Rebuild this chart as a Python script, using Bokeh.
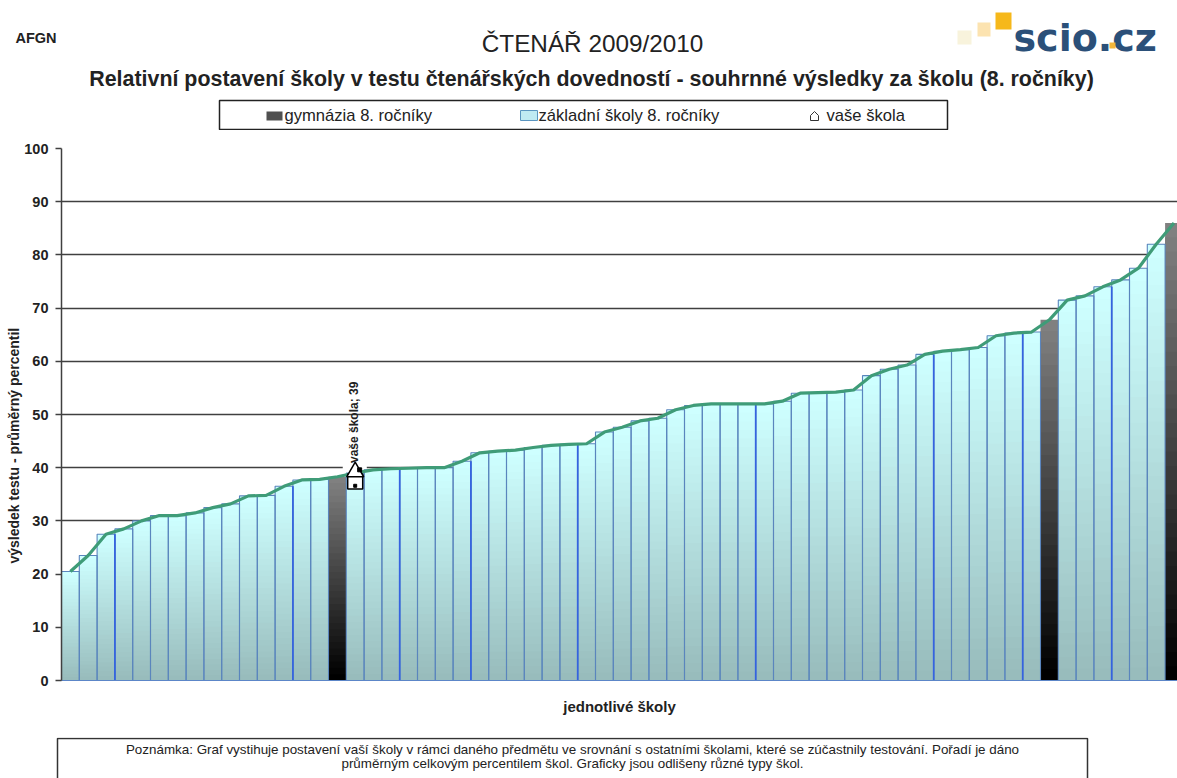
from bokeh.plotting import figure
from bokeh.models import Range1d, Label, FixedTicker, Title
from bokeh.layouts import column
from bokeh.core.properties import value
from bokeh.embed import file_html
from bokeh.resources import INLINE
import math

SCHOOL_VALUES = [20.5, 23.5, 27.5, 28.5, 30.0, 31.0, 31.0, 31.5, 32.5, 33.2, 34.7, 34.8, 36.5, 37.7, 37.8, 38.3,
                 39.0, 39.6, 39.8, 39.9, 40.0, 40.0, 41.2, 42.8, 43.1, 43.3, 43.8, 44.2, 44.4, 44.5, 46.7, 47.6,
                 48.8, 49.3, 50.9, 51.7, 52.0, 52.0, 52.0, 52.0, 52.5, 54.0, 54.1, 54.2, 54.6, 57.3, 58.5, 59.3,
                 61.3, 61.9, 62.2, 62.6, 64.8, 65.3, 65.5, 67.8, 71.5, 72.3, 74.0, 75.3, 77.5, 82.0, 86.0]
GYM_INDEX = [15, 55, 62]
YOUR_INDEX = 16
YOUR_VALUE = 39
BRIGHT_EDGES = [3, 13, 19, 23, 29, 39, 49, 54, 59]
Y_TICKS = [0, 10, 20, 30, 40, 50, 60, 70, 80, 90, 100]
TITLE = "ČTENÁŘ 2009/2010"
SUBTITLE = "Relativní postavení školy v testu čtenářských dovedností - souhrnné výsledky za školu (8. ročníky)"
X_LABEL = "jednotlivé školy"
Y_LABEL = "výsledek testu - průměrný percentil"
LEGEND_GYM = "gymnázia 8. ročníky"
LEGEND_ZS = "základní školy 8. ročníky"
LEGEND_YOU = "vaše škola"
NOTE_1 = "Poznámka: Graf vystihuje postavení vaší školy v rámci daného předmětu ve srovnání s ostatními školami, které se zúčastnily testování. Pořadí je dáno"
NOTE_2 = "průměrným celkovým percentilem škol. Graficky jsou odlišeny různé typy škol."

FONT = "Liberation Sans"
INK = "#222222"
STEPS = 32
W = 1177
HEAD_H, FOOT_H = 130, 41
MAIN_H = 778 - HEAD_H - FOOT_H
F_LEFT, F_TOP, F_BOTTOM = 61, 148, 680
X_PITCH = 17.8


def mix(a, b, t):
    return "#%02x%02x%02x" % tuple(round(a[k] + (b[k] - a[k]) * t) for k in range(3))


def strip(height):
    """A figure without axes whose data coordinates are its own pixels, y running down."""
    f = figure(width=W, height=height, output_backend="svg", toolbar_location=None,
               x_range=Range1d(0, W), y_range=Range1d(height, 0),
               x_axis_location=None, y_axis_location=None, frame_align=False,
               min_border_left=0, min_border_right=0, min_border_top=0, min_border_bottom=0)
    f.outline_line_color = None
    f.xgrid.visible = False
    f.ygrid.visible = False
    return f


def put_text(f, x, y, text, size, style="normal", align="left", color=INK, font=FONT):
    f.text(x=[x], y=[y], text=[text], text_font=value(font), text_font_size=value(size),
           text_font_style=style, text_align=align, text_baseline="middle", text_color=color)


def put_box(f, l, r, t, b, fill, line=None, width=1.0):
    f.quad(left=[l], right=[r], top=[t], bottom=[b], fill_color=fill, line_color=line, line_width=width)


# ---------- header ----------
head = strip(HEAD_H)
put_text(head, 15, 37, "AFGN", "14.5px", "bold")
put_text(head, 592, 43, TITLE, "24.3px", align="center")
put_text(head, 591, 78, SUBTITLE, "21.4px", "bold", align="center")
put_box(head, 957, 971, 30, 44, "#f8f3dc")
put_box(head, 977, 990, 22, 36, "#fce3b0")
put_box(head, 995, 1011, 12, 29, "#f6b81a")
put_text(head, 1013, 37, "scio.cz", "38px", "bold", color="#2b5079", font="DejaVu Sans")
put_box(head, 1109, 1115, 42, 48, "#f3b63a")
put_box(head, 219, 947, 100, 129, "white", "#222222", 1.5)
put_box(head, 266, 282, 111, 120, "#505050")
put_text(head, 284, 115, LEGEND_GYM, "16.6px")
put_box(head, 520, 537, 110, 120, "#bfeaf2", "#5a95c0")
put_text(head, 538, 115, LEGEND_ZS, "16.6px")
head.patch(x=[810, 814, 818, 818, 810], y=[115, 111, 115, 120, 120], fill_color="white", line_color="#333333", line_width=1.0)
put_text(head, 826, 115, LEGEND_YOU, "16.6px")

# ---------- chart ----------
p = figure(width=W, height=MAIN_H, output_backend="svg", toolbar_location=None, frame_align=False,
           x_range=Range1d(-0.5, -0.5 + (W - F_LEFT) / X_PITCH), y_range=Range1d(0, 100),
           min_border_left=F_LEFT, min_border_right=0, min_border_top=F_TOP - HEAD_H,
           min_border_bottom=HEAD_H + MAIN_H - F_BOTTOM)
p.outline_line_color = None
p.background_fill_color = "white"
p.xgrid.visible = False
p.ygrid.grid_line_color = "#404040"
p.ygrid.grid_line_width = 1.5
p.ygrid.ticker = FixedTicker(ticks=Y_TICKS)

ax = p.yaxis[0]
ax.ticker = FixedTicker(ticks=Y_TICKS)
ax.minor_tick_line_color = None
ax.major_tick_out = 6
ax.major_tick_in = 0
ax.major_tick_line_color = "#404040"
ax.major_tick_line_width = 1.5
ax.axis_line_color = "#404040"
ax.axis_line_width = 1.5
ax.major_label_text_font = FONT
ax.major_label_text_font_style = "bold"
ax.major_label_text_font_size = "14.5px"
ax.major_label_text_color = INK
ax.major_label_standoff = 7

p.add_layout(Title(text=Y_LABEL, align="left", offset=117, text_font=FONT, text_font_style="bold",
                   text_font_size="14px", text_color=INK, standoff=0), "left")

bx = p.xaxis[0]
bx.ticker = FixedTicker(ticks=[])
bx.major_label_text_font_size = "0px"
bx.major_tick_line_color = None
bx.minor_tick_line_color = None
bx.axis_line_color = "#5c86c8"
bx.axis_label = X_LABEL
bx.axis_label_text_font = FONT
bx.axis_label_text_font_style = "bold"
bx.axis_label_text_font_size = "15px"
bx.axis_label_text_color = INK
bx.axis_label_standoff = 17

# gap in the grid line behind the data label
p.quad(left=[YOUR_INDEX - 0.7], right=[YOUR_INDEX + 0.65], top=[YOUR_VALUE + 1.6], bottom=[YOUR_VALUE + 0.4],
       fill_color="white", line_color=None)

# per-bar vertical gradient, painted from full height downwards so that no seams show
left, right, top, colors = [], [], [], []
for i, v in enumerate(SCHOOL_VALUES):
    gym = i in GYM_INDEX
    hi, lo = ((128, 128, 128), (0, 0, 0)) if gym else ((206, 255, 255), (152, 188, 188))
    for k in range(STEPS):
        left.append(i - 0.5)
        right.append(i + 0.5)
        top.append(v * (1 - k / STEPS))
        colors.append(mix(hi, lo, k / (STEPS - 1)))
p.quad(left=left, right=right, top=top, bottom=0, fill_color=colors, line_color=None)

xs = list(range(len(SCHOOL_VALUES)))
edge_alpha = [0.0 if i in GYM_INDEX else 1.0 for i in xs]
p.vbar(x=xs, top=SCHOOL_VALUES, width=1.0, bottom=0, fill_color=None,
       line_color="#5a85bd", line_alpha=edge_alpha, line_width=1.1)
p.segment(x0=[i - 0.5 for i in BRIGHT_EDGES], x1=[i - 0.5 for i in BRIGHT_EDGES], y0=[0] * len(BRIGHT_EDGES),
          y1=[SCHOOL_VALUES[i - 1] for i in BRIGHT_EDGES], line_color="#3563e0", line_width=1.7)

p.line(xs, SCHOOL_VALUES, line_color="#3f9c78", line_width=3.2, line_join="round")

# house marker for "vaše škola"
p.scatter([YOUR_INDEX], [YOUR_VALUE - 1.6], marker="square", size=15, fill_color="white", line_color="black", line_width=1.5)
p.scatter([YOUR_INDEX], [YOUR_VALUE + 0.2], marker="triangle", size=17, fill_color="white", line_color="black", line_width=1.5)
p.scatter([YOUR_INDEX + 0.25], [YOUR_VALUE + 0.6], marker="square", size=4, fill_color="black", line_color="black")
p.scatter([YOUR_INDEX], [YOUR_VALUE - 2.4], marker="square", size=3, fill_color="black", line_color="black")

p.add_layout(Label(x=YOUR_INDEX, y=YOUR_VALUE, y_offset=10, x_offset=-1.5, angle=math.pi / 2,
                   text=f"vaše škola; {YOUR_VALUE}", text_font=FONT, text_font_style="bold",
                   text_font_size="12px", text_color=INK, text_align="left", text_baseline="middle"))

# ---------- note box, running off the bottom of the page ----------
foot = strip(FOOT_H)
put_box(foot, 57, 1087, 1, FOOT_H + 20, "white", "#333333", 1.5)
put_text(foot, 572, 12, NOTE_1, "13.4px", align="center")
put_text(foot, 572, 26, NOTE_2, "13.4px", align="center")

open("out.html", "w").write(file_html(column(head, p, foot, spacing=0), INLINE))
